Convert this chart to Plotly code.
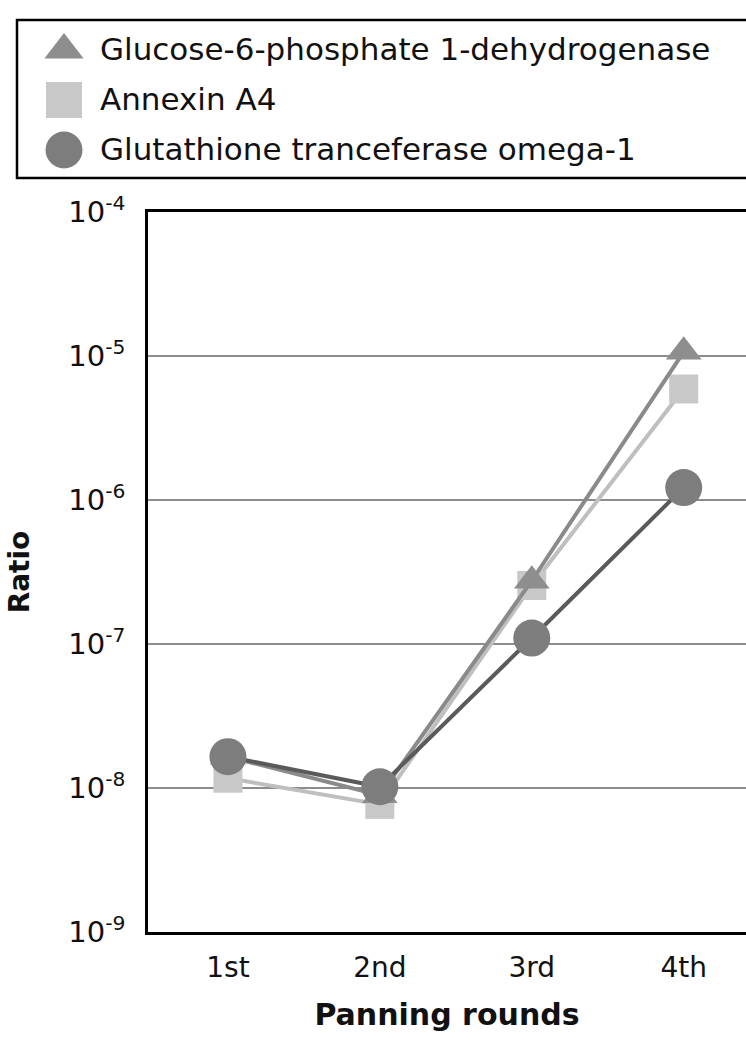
import plotly.graph_objects as go

rounds = ["1st", "2nd", "3rd", "4th"]
series_names = ["Glucose-6-phosphate 1-dehydrogenase", "Annexin A4", "Glutathione tranceferase omega-1"]
g6pd = [1.65e-8, 8.9e-9, 2.75e-7, 1.07e-5]
annexin = [1.17e-8, 7.7e-9, 2.55e-7, 5.9e-6]
gsto1 = [1.65e-8, 1.02e-8, 1.1e-7, 1.22e-6]
y_tickvals = [1e-9, 1e-8, 1e-7, 1e-6, 1e-5, 1e-4]
y_ticktext = ["10<sup>-9</sup>", "10<sup>-8</sup>", "10<sup>-7</sup>", "10<sup>-6</sup>",
              "10<sup>-5</sup>", "10<sup>-4</sup>"]

W, H = 746, 1043
MB = 111
PH = H - MB  # plotting-area height (paper)
FONT = "DejaVu Sans"

styles = {
    "Glucose-6-phosphate 1-dehydrogenase": dict(symbol="triangle-up", size=31, leg_size=34,
                                                fill="#8e8e8e", line="#8a8a8a"),
    "Annexin A4": dict(symbol="square", size=29, leg_size=36, fill="#c8c8c8", line="#bfbfbf"),
    "Glutathione tranceferase omega-1": dict(symbol="circle", size=37, leg_size=37,
                                             fill="#7d7d7d", line="#5a5a5a"),
}
data = {series_names[0]: g6pd, series_names[1]: annexin, series_names[2]: gsto1}

fig = go.Figure()
# draw order: square, triangle, circle
for name in [series_names[1], series_names[0], series_names[2]]:
    s = styles[name]
    fig.add_trace(go.Scatter(
        x=rounds, y=data[name], name=name, mode="lines+markers",
        line=dict(color=s["line"], width=4),
        marker=dict(symbol=s["symbol"], size=s["size"], color=s["fill"], line=dict(width=0)),
        xaxis="x", yaxis="y", showlegend=False,
    ))

# Custom legend drawn on its own small axes
for name in series_names:
    s = styles[name]
    fig.add_trace(go.Scatter(
        x=[0], y=[name], mode="markers", showlegend=False, hoverinfo="skip",
        marker=dict(symbol=s["symbol"], size=s["leg_size"], color=s["fill"], line=dict(width=0)),
        xaxis="x2", yaxis="y2",
    ))
    fig.add_annotation(x=0, y=name, xref="x2", yref="y2", text=name, showarrow=False,
                       xanchor="left", xshift=34, yshift=1,
                       font=dict(family=FONT, size=31, color="#111111"))

main_y_top = (PH - 212) / PH
fig.update_layout(
    width=W, height=H,
    margin=dict(l=0, r=0, t=0, b=MB),
    paper_bgcolor="white", plot_bgcolor="white",
    font=dict(family=FONT, color="#111111"),
    showlegend=False,
    xaxis=dict(
        domain=[148 / W, 1], range=[-0.526, 3.41], type="category",
        showgrid=False, showline=True, linecolor="black", linewidth=2.5, mirror=True,
        ticks="", tickfont=dict(size=28, family=FONT), ticklabelstandoff=9,
        title=dict(text="<b>Panning rounds</b>", font=dict(size=30, family=FONT), standoff=21),
        automargin=False, zeroline=False,
    ),
    yaxis=dict(
        domain=[0, main_y_top], type="log", range=[-9, -4],
        tickvals=y_tickvals, ticktext=y_ticktext,
        showgrid=True, gridcolor="#8c8c8c", gridwidth=1.5,
        showline=True, linecolor="black", linewidth=2.5,
        ticks="", tickfont=dict(size=29, family=FONT), ticklabelstandoff=14,
        title=dict(text="<b>Ratio</b>", font=dict(size=28, family=FONT), standoff=31),
        automargin=False, zeroline=False,
    ),
    xaxis2=dict(domain=[0, 1], range=[-64, 682], visible=False, fixedrange=True),
    yaxis2=dict(domain=[(PH - 175) / PH, (PH - 25) / PH], type="category",
                categoryorder="array", categoryarray=series_names,
                range=[2.5, -0.5], visible=False, fixedrange=True, anchor="x2"),
)
fig.add_shape(type="rect", xref="paper", yref="paper",
              x0=17 / W, x1=1.05, y0=(PH - 178) / PH, y1=(PH - 20) / PH,
              line=dict(color="black", width=2.5), fillcolor="rgba(0,0,0,0)")

fig.write_html("out.html", config={"displayModeBar": False},
               post_script="document.body.style.margin='0';")
